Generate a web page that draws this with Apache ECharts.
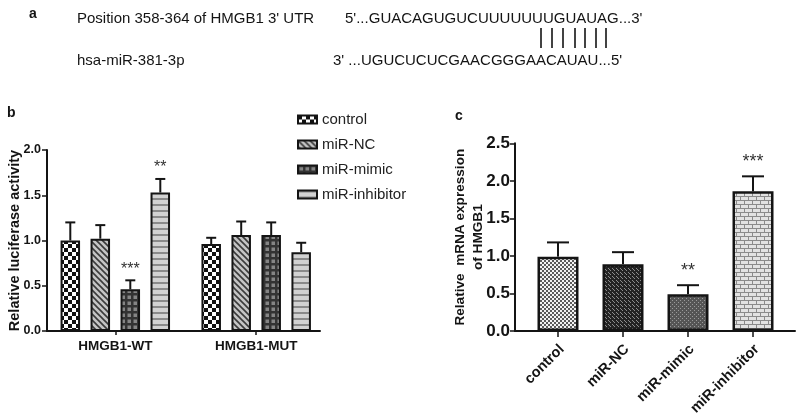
<!DOCTYPE html>
<html><head><meta charset="utf-8">
<script src="https://cdn.jsdelivr.net/npm/echarts@6/dist/echarts.min.js"></script>
<style>html,body{margin:0;padding:0;background:#fff}#chart{width:800px;height:413px}</style>
</head><body><div id="chart"></div>
<script>
// ---------- Panel a text ----------
const seqLabelTop = 'Position 358-364 of HMGB1 3\' UTR';
const seqLabelBottom = 'hsa-miR-381-3p';
const seqTop = '5\'...GUACAGUGUCUUUUUUUGUAUAG...3\'';
const seqBottom = '3\' ...UGUCUCUCGAACGGGAACAUAU...5\'';

// ---------- Panel b data ----------
const groupsB = ['HMGB1-WT', 'HMGB1-MUT'];
const seriesNamesB = ['control', 'miR-NC', 'miR-mimic', 'miR-inhibitor'];
const controlB = [1.00, 0.96];
const ncB = [1.02, 1.06];
const mimicB = [0.46, 1.06];
const inhibitorB = [1.53, 0.87];
const controlErrB = [0.20, 0.07];
const ncErrB = [0.15, 0.15];
const mimicErrB = [0.10, 0.14];
const inhibitorErrB = [0.15, 0.105];
const controlStarsB = ['', ''];
const ncStarsB = ['', ''];
const mimicStarsB = ['***', ''];
const inhibitorStarsB = ['**', ''];
const yTicksB = ['0.0', '0.5', '1.0', '1.5', '2.0'];
const yNameB = 'Relative luciferase activity';

// ---------- Panel c data ----------
const categoriesC = ['control', 'miR-NC', 'miR-mimic', 'miR-inhibitor'];
const valuesC = [0.99, 0.89, 0.49, 1.86];
const errorsC = [0.19, 0.16, 0.12, 0.20];
const starsC = ['', '', '**', '***'];
const yTicksC = ['0.0', '0.5', '1.0', '1.5', '2.0', '2.5'];
const yNameC = 'Relative  mRNA expression\nof HMGB1';

// ---------- styles ----------
const FONT = '"Liberation Sans", Arial, sans-serif';
const INK = '#141414';
const BAR_W_B = 19.5, GAP_B = 10.5, CAP_B = 5;
const BAR_W_C = 41, CAP_C = 11;
const LABEL_SHIFT_C = 0.06; // rotated labels sit slightly right of their ticks

function pat(w, h, draw) {
  const c = document.createElement('canvas');
  c.width = w; c.height = h;
  const g = c.getContext('2d');
  draw(g);
  return { image: c, repeat: 'repeat' };
}
const patB = [
  pat(8, 8, g => { g.fillStyle = '#fff'; g.fillRect(0, 0, 8, 8); g.fillStyle = '#111'; g.fillRect(0, 0, 4, 4); g.fillRect(4, 4, 4, 4); }),
  pat(6, 6, g => { g.fillStyle = '#c4c4c4'; g.fillRect(0, 0, 6, 6); g.strokeStyle = '#3a3a3a'; g.lineWidth = 1.6;
    g.beginPath(); g.moveTo(-1, -1); g.lineTo(7, 7); g.moveTo(-4, 2); g.lineTo(4, 10); g.moveTo(2, -4); g.lineTo(10, 4); g.stroke(); }),
  pat(6, 6, g => { g.fillStyle = '#333'; g.fillRect(0, 0, 6, 6); g.fillStyle = '#858585'; g.fillRect(1.5, 1.5, 3.5, 3.5); }),
  pat(6, 6, g => { g.fillStyle = '#d2d2d2'; g.fillRect(0, 0, 6, 6); g.fillStyle = '#8a8a8a'; g.fillRect(0, 0, 6, 2); })
];
const patC = [
  pat(4, 4, g => { g.fillStyle = '#f2f2f2'; g.fillRect(0, 0, 4, 4); g.fillStyle = '#5a5a5a'; g.fillRect(0, 0, 2, 2); g.fillRect(2, 2, 2, 2); }),
  pat(4, 4, g => { g.fillStyle = '#232323'; g.fillRect(0, 0, 4, 4); g.fillStyle = '#8c8c8c'; g.fillRect(0, 0, 1, 1); g.fillRect(2, 2, 1, 1); g.fillRect(1, 1, 1, 1); }),
  pat(4, 4, g => { g.fillStyle = '#555'; g.fillRect(0, 0, 4, 4); g.fillStyle = '#9a9a9a'; g.fillRect(0, 0, 1, 1); g.fillRect(2, 2, 1, 1); }),
  pat(8, 8, g => { g.fillStyle = '#e2e2e2'; g.fillRect(0, 0, 8, 8); g.fillStyle = '#8a8a8a';
    g.fillRect(0, 0, 8, 1); g.fillRect(0, 4, 8, 1); g.fillRect(0, 0, 1, 4); g.fillRect(4, 4, 1, 4); })
];

const valsB = [controlB, ncB, mimicB, inhibitorB];
const errsB = [controlErrB, ncErrB, mimicErrB, inhibitorErrB];
const starsB = [controlStarsB, ncStarsB, mimicStarsB, inhibitorStarsB];

const errDataB = [];
seriesNamesB.forEach((n, k) => valsB[k].forEach((v, i) => errDataB.push([i, v, errsB[k][i], k])));
const errDataC = valuesC.map((v, i) => [i, v, errorsC[i]]);

function errBar(api, cx, baseY, topY, cap, star, starSize, starGap) {
  const children = [
    { type: 'line', shape: { x1: cx, y1: baseY, x2: cx, y2: topY }, style: { stroke: INK, lineWidth: 2 } },
    { type: 'line', shape: { x1: cx - cap, y1: topY, x2: cx + cap, y2: topY }, style: { stroke: INK, lineWidth: 2 } }
  ];
  if (star) children.push({ type: 'text', style: { text: star, x: cx, y: topY - starGap, align: 'center', verticalAlign: 'middle',
    font: starSize + 'px ' + FONT, fill: '#333' } });
  return { type: 'group', children };
}

const axisLineStyle = { show: true, onZero: false, lineStyle: { color: INK, width: 2 } };
const tickStyle = { show: true, length: 5, lineStyle: { color: INK, width: 1.5 } };

const option = {
  animation: false,
  backgroundColor: '#fff',
  textStyle: { fontFamily: FONT },
  graphic: [
    { type: 'text', left: 29, top: 7, style: { text: 'a', font: 'bold 14px ' + FONT, fill: INK } },
    { type: 'text', left: 77, top: 11, style: { text: seqLabelTop, font: '15px ' + FONT, fill: INK } },
    { type: 'text', left: 77, top: 53, style: { text: seqLabelBottom, font: '15px ' + FONT, fill: INK } },
    { type: 'text', left: 345, top: 11, style: { text: seqTop, font: '15px ' + FONT, fill: INK } },
    { type: 'text', left: 333, top: 53, style: { text: seqBottom, font: '15px ' + FONT, fill: INK } },
    ...[541, 552, 563, 575, 585, 596, 606].map(x => ({ type: 'line', shape: { x1: x, y1: 28, x2: x, y2: 48 }, style: { stroke: INK, lineWidth: 1.6 } })),
    { type: 'text', left: 7, top: 106, style: { text: 'b', font: 'bold 14px ' + FONT, fill: INK } },
    { type: 'text', left: 455, top: 109, style: { text: 'c', font: 'bold 14px ' + FONT, fill: INK } }
  ],
  legend: {
    orient: 'vertical', left: 292, top: 107, itemWidth: 19, itemHeight: 8, itemGap: 10, itemTextGap: 11,
    icon: 'rect', selectedMode: false, data: seriesNamesB,
    textStyle: { fontSize: 15, fontFamily: FONT, color: '#222' }
  },
  grid: [
    { left: 47, top: 150, width: 273, height: 181, containLabel: false, outerBoundsMode: 'none' },
    { left: 515, top: 143.3, width: 280, height: 187.7, containLabel: false, outerBoundsMode: 'none' }
  ],
  xAxis: [
    { gridIndex: 0, type: 'value', min: -0.4847, max: 1.4528, splitLine: { show: false },
      axisLine: axisLineStyle,
      axisTick: { show: true, length: 4, lineStyle: { color: INK, width: 1.5 }, customValues: [0, 1] },
      axisLabel: { customValues: [0, 1], margin: 8, formatter: v => groupsB[Math.round(v)],
        fontWeight: 'bold', fontSize: 13.5, color: INK, fontFamily: FONT } },
    { gridIndex: 1, type: 'value', min: -0.6615, max: 3.646, splitLine: { show: false },
      axisLine: axisLineStyle,
      axisTick: { show: true, length: 6, lineStyle: { color: INK, width: 1.5 }, customValues: [0, 1, 2, 3] },
      axisLabel: { customValues: categoriesC.map((c, i) => i + LABEL_SHIFT_C), margin: 16, rotate: 45,
        formatter: v => categoriesC[Math.round(v)],
        fontWeight: 'bold', fontSize: 14.5, color: INK, fontFamily: FONT } }
  ],
  yAxis: [
    { gridIndex: 0, type: 'value', min: 0, max: 2, interval: 0.5, splitLine: { show: false },
      axisLine: axisLineStyle, axisTick: tickStyle,
      axisLabel: { margin: 6, fontWeight: 'bold', fontSize: 12.5, color: INK, fontFamily: FONT,
        formatter: v => yTicksB[Math.round(v / 0.5)] },
      name: yNameB, nameLocation: 'middle', nameGap: 25, nameMoveOverlap: false,
      nameTextStyle: { fontWeight: 'bold', fontSize: 14.5, color: INK, fontFamily: FONT } },
    { gridIndex: 1, type: 'value', min: 0, max: 2.5, interval: 0.5, splitLine: { show: false },
      axisLine: axisLineStyle, axisTick: tickStyle,
      axisLabel: { margin: 5, fontWeight: 'bold', fontSize: 17, color: INK, fontFamily: FONT,
        formatter: v => yTicksC[Math.round(v / 0.5)] },
      name: yNameC, nameLocation: 'middle', nameGap: 28, nameMoveOverlap: false,
      nameTextStyle: { fontWeight: 'bold', fontSize: 13.6, lineHeight: 18, color: INK, fontFamily: FONT } }
  ],
  series: [
    ...seriesNamesB.map((name, k) => ({
      type: 'bar', name, xAxisIndex: 0, yAxisIndex: 0,
      data: valsB[k].map((v, i) => [i, v]),
      barWidth: BAR_W_B, barGap: (GAP_B / BAR_W_B * 100).toFixed(1) + '%',
      itemStyle: { color: patB[k], borderColor: INK, borderWidth: 2 },
      emphasis: { disabled: true }
    })),
    {
      type: 'custom', name: 'errB', xAxisIndex: 0, yAxisIndex: 0, z: 5, data: errDataB,
      renderItem(params, api) {
        const x = api.value(0), v = api.value(1), e = api.value(2), k = api.value(3);
        const base = api.coord([x, v]), top = api.coord([x, v + e]);
        const cx = base[0] + (k - 1.5) * (BAR_W_B + GAP_B);
        return errBar(api, cx, base[1], top[1], CAP_B, starsB[k][x], 16, 11);
      }
    },
    {
      type: 'bar', name: 'HMGB1 mRNA', xAxisIndex: 1, yAxisIndex: 1, barWidth: BAR_W_C,
      data: valuesC.map((v, i) => ({ value: [i, v], itemStyle: { color: patC[i] } })),
      itemStyle: { borderColor: INK, borderWidth: 2.5 },
      emphasis: { disabled: true }
    },
    {
      type: 'custom', name: 'errC', xAxisIndex: 1, yAxisIndex: 1, z: 5, data: errDataC,
      renderItem(params, api) {
        const x = api.value(0), v = api.value(1), e = api.value(2);
        const base = api.coord([x, v]), top = api.coord([x, v + e]);
        return errBar(api, base[0], base[1], top[1], CAP_C, starsC[x], 18, 14);
      }
    }
  ]
};
const chart = echarts.init(document.getElementById('chart'));
chart.setOption(option);
</script></body></html>
